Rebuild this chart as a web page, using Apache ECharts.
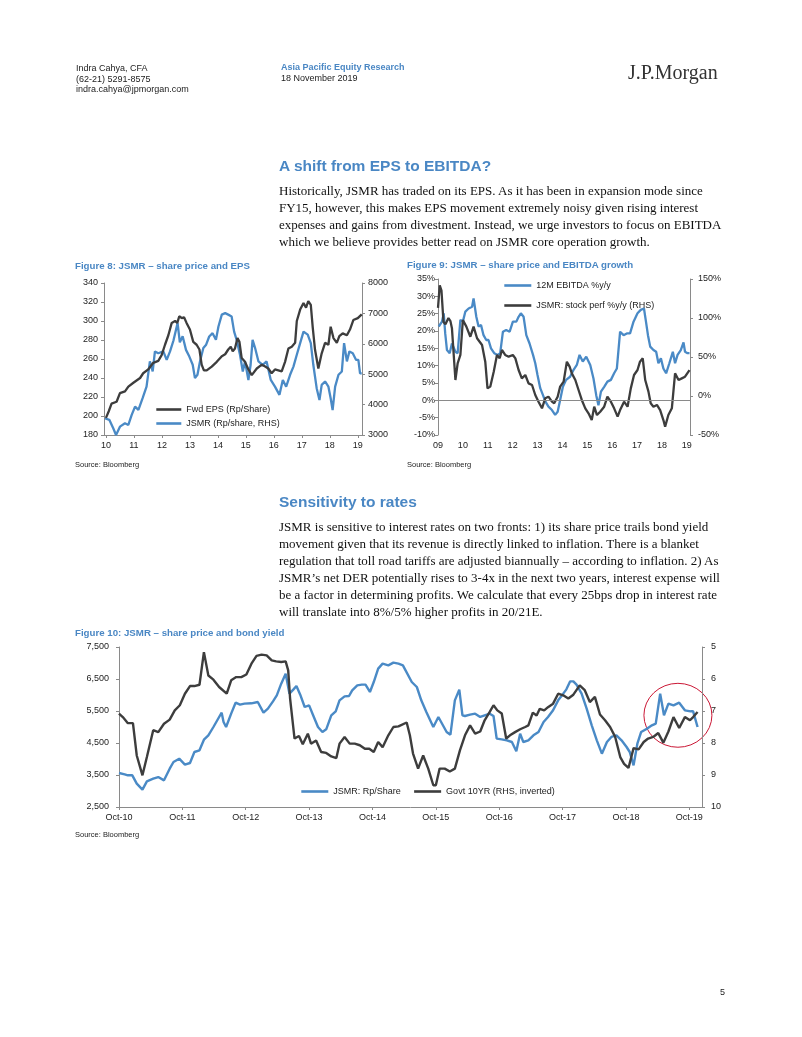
<!DOCTYPE html>
<html><head><meta charset="utf-8">
<script src="https://cdn.jsdelivr.net/npm/echarts@6/dist/echarts.min.js"></script>
<style>
html,body{margin:0;padding:0;background:#fff;}
#page{position:relative;width:802px;height:1037px;overflow:hidden;font-family:Arial,"Liberation Sans",sans-serif;color:#222;}
#chart{position:absolute;left:0;top:0;width:802px;height:1037px;}
.t{position:absolute;white-space:nowrap;z-index:2;}
.hdr{font-size:9px;line-height:10.5px;color:#222;}
.blue{color:#4a87c4;}
.jpm{font-family:"Liberation Serif","Times New Roman",serif;font-size:20px;line-height:22px;color:#333;}
.h{font-size:15.5px;font-weight:bold;line-height:18px;color:#4a87c4;}
.p{font-family:"Liberation Serif","Times New Roman",serif;font-size:13px;line-height:17px;color:#111;}
.fig{font-size:9.7px;font-weight:bold;line-height:12px;color:#4a87c4;}
.src{font-size:7.5px;line-height:10px;color:#222;}
</style></head>
<body>
<div id="page">
<div id="chart"></div>
<div class="t hdr" style="left:76px;top:63px;">Indra Cahya, CFA<br>(62-21) 5291-8575<br>indra.cahya@jpmorgan.com</div>
<div class="t hdr" style="left:281px;top:62px;"><b class="blue">Asia Pacific Equity Research</b><br>18 November 2019</div>
<div class="t jpm" style="left:628px;top:61px;">J.P.Morgan</div>
<div class="t h" style="left:279px;top:157px;">A shift from EPS to EBITDA?</div>
<div class="t p" style="left:279px;top:181.5px;">Historically, JSMR has traded on its EPS. As it has been in expansion mode since<br>FY15, however, this makes EPS movement extremely noisy given rising interest<br>expenses and gains from divestment. Instead, we urge investors to focus on EBITDA<br>which we believe provides better read on JSMR core operation growth.</div>
<div class="t fig" style="left:75px;top:260px;">Figure 8: JSMR – share price and EPS</div>
<div class="t fig" style="left:407px;top:259px;">Figure 9: JSMR – share price and EBITDA growth</div>
<div class="t src" style="left:75px;top:460px;">Source: Bloomberg</div>
<div class="t src" style="left:407px;top:460px;">Source: Bloomberg</div>
<div class="t h" style="left:279px;top:493px;">Sensitivity to rates</div>
<div class="t p" style="left:279px;top:517.5px;">JSMR is sensitive to interest rates on two fronts: 1) its share price trails bond yield<br>movement given that its revenue is directly linked to inflation. There is a blanket<br>regulation that toll road tariffs are adjusted biannually – according to inflation. 2) As<br>JSMR’s net DER potentially rises to 3-4x in the next two years, interest expense will<br>be a factor in determining profits. We calculate that every 25bps drop in interest rate<br>will translate into 8%/5% higher profits in 20/21E.</div>
<div class="t fig" style="left:75px;top:627px;">Figure 10: JSMR – share price and bond yield</div>
<div class="t src" style="left:75px;top:830px;">Source: Bloomberg</div>
<div class="t hdr" style="left:720px;top:987px;">5</div>
</div>
<script>
// ---------- Figure 8 data ----------
const fig8Ticks = [2010,2011,2012,2013,2014,2015,2016,2017,2018,2019];
const fig8EpsYears = [2010.0,2010.1,2010.2,2010.38,2010.5,2010.68,2010.8,2010.98,2011.22,2011.33,2011.51,2011.69,2011.87,2011.99,2012.11,2012.23,2012.35,2012.47,2012.55,2012.62,2012.71,2012.79,2012.88,2013.0,2013.12,2013.24,2013.34,2013.42,2013.5,2013.6,2013.78,2013.96,2014.14,2014.26,2014.37,2014.46,2014.53,2014.61,2014.7,2014.77,2014.85,2014.97,2015.09,2015.21,2015.39,2015.57,2015.69,2015.8,2015.92,2016.04,2016.16,2016.28,2016.4,2016.52,2016.64,2016.76,2016.82,2016.94,2017.06,2017.15,2017.23,2017.32,2017.39,2017.47,2017.59,2017.71,2017.83,2017.95,2018.03,2018.13,2018.25,2018.34,2018.46,2018.61,2018.72,2018.84,2019.0,2019.14];
const fig8EpsValues = [198,205,213,215,224,226,231,235,240,245,249,256,258,264,275,285,298,300,298,305,303,304,298,291,278,275,270,254,248,248,252,257,263,265,270,273,268,271,282,278,261,257,249,243,250,254,252,250,245,249,248,247,257,271,273,277,300,312,319,314,321,317,293,270,250,266,277,275,294,282,277,284,287,285,291,301,303,307];
const fig8PriceYears = [2009.96,2010.12,2010.26,2010.36,2010.5,2010.68,2010.8,2010.92,2011.04,2011.16,2011.31,2011.45,2011.57,2011.67,2011.75,2011.87,2012.05,2012.17,2012.29,2012.41,2012.56,2012.64,2012.74,2012.86,2012.98,2013.1,2013.18,2013.27,2013.36,2013.48,2013.58,2013.69,2013.81,2013.93,2014.02,2014.14,2014.26,2014.37,2014.49,2014.58,2014.67,2014.79,2014.89,2014.97,2015.09,2015.17,2015.24,2015.33,2015.45,2015.6,2015.74,2015.89,2016.04,2016.2,2016.32,2016.44,2016.58,2016.7,2016.82,2016.94,2017.06,2017.21,2017.32,2017.41,2017.53,2017.63,2017.71,2017.83,2017.95,2018.03,2018.1,2018.19,2018.31,2018.43,2018.51,2018.61,2018.7,2018.82,2018.94,2019.02,2019.08,2019.14];
const fig8PriceValues = [3550,3500,3220,3000,3275,3385,3330,3660,3935,3825,4210,4590,5420,5090,5750,5690,5750,5470,5750,6100,6680,6050,6250,5800,5580,5310,4870,4980,5420,5860,5970,6240,6350,6130,6570,6960,7010,6960,6900,6400,6130,5640,5090,5420,4810,5310,6130,5860,5420,5310,5420,4810,4590,4320,4810,4590,4980,5250,5640,6020,6400,6300,6020,5310,4540,4150,4650,4760,4590,4210,3820,4590,4980,5090,6020,5420,5750,5690,5470,5470,5030,5030];

// ---------- Figure 9 data ----------
const fig9Ticks = [2009,2010,2011,2012,2013,2014,2015,2016,2017,2018,2019];
const fig9EbitdaYears = [2009.03,2009.16,2009.23,2009.29,2009.36,2009.47,2009.56,2009.70,2009.79,2009.90,2010.00,2010.10,2010.23,2010.37,2010.43,2010.54,2010.63,2010.73,2010.83,2010.94,2011.03,2011.13,2011.26,2011.40,2011.50,2011.61,2011.74,2011.88,2012.01,2012.15,2012.24,2012.33,2012.44,2012.55,2012.68,2012.82,2012.91,2013.00,2013.11,2013.22,2013.32,2013.44,2013.58,2013.71,2013.81,2013.91,2014.02,2014.15,2014.31,2014.45,2014.58,2014.69,2014.82,2014.96,2015.12,2015.25,2015.36,2015.45,2015.55,2015.68,2015.81,2015.95,2016.08,2016.19,2016.32,2016.46,2016.59,2016.72,2016.86,2017.02,2017.15,2017.28,2017.36,2017.44,2017.53,2017.66,2017.77,2017.86,2017.96,2018.06,2018.17,2018.30,2018.44,2018.53,2018.63,2018.76,2018.87,2018.93,2019.03,2019.11];
const fig9EbitdaValues = [21.3,22.7,25.1,19.3,14.5,13.6,16.4,14.0,13.6,23.2,22.7,25.6,26.5,27.0,29.4,24.1,21.3,21.7,18.8,17.4,17.4,15.0,13.6,13.1,13.6,19.8,20.3,19.8,22.7,22.7,24.1,25.1,24.1,18.8,16.4,13.1,10.7,7.3,3.5,1.5,-0.4,-1.8,-2.8,-4.2,-3.3,0.1,3.9,5.9,6.8,8.8,10.2,13.1,11.2,12.6,10.2,6.3,1.5,-1.4,2.5,3.9,5.4,5.9,7.8,9.2,19.8,18.8,19.3,19.3,22.7,25.1,26.1,26.5,22.7,18.8,15.5,14.5,14.0,10.7,12.1,9.2,7.8,10.7,14.0,10.7,13.1,14.5,16.7,14.0,13.6,13.6];
const fig9StockYears = [2009.0,2009.07,2009.14,2009.22,2009.3,2009.42,2009.5,2009.56,2009.70,2009.79,2009.90,2010.00,2010.14,2010.30,2010.43,2010.57,2010.77,2010.90,2010.99,2011.10,2011.24,2011.37,2011.48,2011.57,2011.70,2011.84,2012.01,2012.11,2012.24,2012.37,2012.51,2012.64,2012.78,2012.91,2013.04,2013.18,2013.31,2013.44,2013.58,2013.67,2013.81,2013.91,2014.05,2014.18,2014.29,2014.38,2014.52,2014.65,2014.78,2014.92,2015.05,2015.18,2015.28,2015.39,2015.52,2015.68,2015.81,2015.95,2016.08,2016.22,2016.32,2016.48,2016.62,2016.75,2016.88,2017.02,2017.12,2017.23,2017.33,2017.46,2017.55,2017.66,2017.80,2017.93,2018.06,2018.13,2018.26,2018.40,2018.53,2018.67,2018.80,2018.93,2019.11];
const fig9StockValues = [113,142,135,95,92,100,96,87,20.5,41.9,52.6,97.4,88.9,76,88.9,74,65.4,44,9.8,12,31.2,52.6,48.3,59,52.6,50.4,52.6,48.3,33.3,22.6,26.9,16.2,14.1,1.3,-7.3,-15.8,-3,-0.9,-7.3,-9.4,-0.9,12,18.4,44,37.6,29,20.5,7.7,-5.1,-15.8,-22.2,-30.8,-13.7,-24.4,-20.1,-13.7,-0.9,-7.3,-15.8,-26.5,-18,-7.3,-13.7,9.8,26.9,33.3,44,48.3,20.5,5.6,-9.4,-13.7,-11.5,-18,-30.8,-39.3,-24.4,-15.8,29,20.5,22.6,24.7,33.3];

// ---------- Figure 10 data ----------
const fig10Ticks = [2010.75,2011.75,2012.75,2013.75,2014.75,2015.75,2016.75,2017.75,2018.75,2019.75];
const fig10PriceTicks = [2500,3500,4500,5500,6500,7500];
const fig10PriceYears = [2010.75,2010.84,2010.89,2010.96,2011.03,2011.12,2011.19,2011.29,2011.37,2011.46,2011.55,2011.61,2011.70,2011.79,2011.87,2011.94,2012.02,2012.09,2012.16,2012.24,2012.33,2012.37,2012.40,2012.44,2012.52,2012.59,2012.66,2012.73,2012.84,2012.94,2013.03,2013.10,2013.18,2013.24,2013.31,2013.38,2013.44,2013.50,2013.55,2013.61,2013.68,2013.75,2013.81,2013.89,2013.96,2014.02,2014.10,2014.17,2014.23,2014.31,2014.38,2014.43,2014.51,2014.58,2014.64,2014.71,2014.77,2014.84,2014.91,2015.00,2015.08,2015.16,2015.23,2015.37,2015.45,2015.52,2015.60,2015.71,2015.79,2015.92,2015.98,2016.05,2016.12,2016.17,2016.21,2016.29,2016.37,2016.45,2016.52,2016.60,2016.66,2016.71,2016.79,2016.87,2016.95,2017.02,2017.08,2017.13,2017.21,2017.29,2017.37,2017.45,2017.52,2017.60,2017.68,2017.76,2017.81,2017.87,2017.92,2017.97,2018.05,2018.13,2018.21,2018.29,2018.37,2018.45,2018.52,2018.60,2018.68,2018.76,2018.81,2018.87,2018.93,2018.99,2019.08,2019.16,2019.22,2019.29,2019.35,2019.42,2019.50,2019.59,2019.68,2019.77,2019.81,2019.88];
const fig10PriceValues = [3563,3521,3490,3490,3230,3042,3302,3385,3437,3333,3698,3906,4010,3823,3875,4219,4271,4604,4740,5000,5313,5448,5156,5000,5417,5760,5698,5729,5740,5781,5448,5573,5802,5990,6354,6667,6042,6167,6281,6010,5625,5677,5385,5000,4844,4927,5365,5490,5833,5958,5969,6146,6302,6323,6323,6094,6406,6823,6979,6927,7010,6979,6927,6406,6250,5833,5469,5000,5313,4844,4760,5833,6167,5365,5344,5385,5417,5313,5365,5417,5344,4635,4615,4583,4531,4240,4792,4531,4583,4740,4844,5156,5313,5521,5833,6042,6177,6427,6427,6323,6042,5573,5052,4583,4167,4531,4688,4740,4583,4375,4219,3802,4479,4844,4948,5052,5104,6042,5365,5729,5677,5760,5521,5490,5490,5000];
const fig10YieldYears = [2010.75,2010.81,2010.89,2010.97,2011.03,2011.12,2011.19,2011.29,2011.37,2011.46,2011.55,2011.63,2011.71,2011.79,2011.87,2011.94,2012.02,2012.09,2012.16,2012.24,2012.33,2012.45,2012.52,2012.60,2012.68,2012.76,2012.84,2012.92,2013.00,2013.08,2013.16,2013.23,2013.31,2013.38,2013.42,2013.45,2013.52,2013.59,2013.65,2013.73,2013.78,2013.86,2013.94,2014.02,2014.10,2014.18,2014.23,2014.31,2014.39,2014.47,2014.55,2014.63,2014.70,2014.77,2014.84,2014.91,2015.00,2015.08,2015.16,2015.29,2015.34,2015.39,2015.47,2015.55,2015.63,2015.71,2015.75,2015.81,2015.89,2015.97,2016.05,2016.13,2016.21,2016.29,2016.37,2016.45,2016.52,2016.60,2016.66,2016.72,2016.79,2016.86,2016.92,2017.00,2017.08,2017.16,2017.21,2017.28,2017.34,2017.39,2017.46,2017.52,2017.60,2017.68,2017.76,2017.84,2017.92,2018.02,2018.10,2018.18,2018.26,2018.34,2018.42,2018.50,2018.58,2018.66,2018.72,2018.79,2018.87,2018.95,2019.03,2019.10,2019.18,2019.26,2019.34,2019.42,2019.50,2019.59,2019.68,2019.76,2019.81,2019.88];
const fig10YieldValues = [7.08,7.19,7.38,7.38,8.39,9.01,8.44,7.60,7.66,7.40,7.27,6.98,6.82,6.46,6.22,6.22,6.18,5.16,5.89,6.02,6.25,6.46,6.04,5.94,5.94,5.86,5.52,5.28,5.24,5.26,5.42,5.45,5.47,5.45,5.73,6.61,7.86,7.78,8.04,7.71,8.02,7.92,8.28,8.31,8.42,8.47,8.02,7.81,8.02,8.02,8.07,8.18,8.18,8.28,7.97,8.13,7.76,7.50,7.48,7.36,7.76,8.33,8.80,8.39,8.80,9.32,9.32,8.80,8.80,8.89,8.80,8.23,7.76,7.45,7.71,7.64,7.29,7.03,6.82,6.98,7.08,7.86,7.76,7.66,7.57,7.50,7.45,7.05,7.14,6.93,6.98,6.88,6.77,6.46,6.51,6.61,6.49,6.20,6.35,6.72,6.56,7.11,7.29,7.50,7.81,8.44,8.65,8.78,8.16,8.20,7.97,7.86,7.81,7.69,7.99,7.64,7.19,7.53,7.19,7.29,7.19,7.03];
// annotation (circled area in Figure 10), in data units
const fig10Circle = {year: 2019.57, price: 5366};

const BLUE = '#4a8ac6', DARK = '#3d3d3d', AX = '#8a8a8a', LBL = '#222';
const zip = (xs, ys) => xs.map((x, i) => [x, ys[i]]);
const two = v => String(Math.round(v) % 100).padStart(2, '0');

function xAx(grid, min, max, ticks, fmt, showLine) {
  return {
    type: 'value', gridIndex: grid, min: min, max: max,
    axisLine: {show: showLine, lineStyle: {color: AX, width: 1}},
    axisTick: {show: showLine, length: 3, customValues: ticks, lineStyle: {color: AX}},
    axisLabel: {customValues: ticks, formatter: fmt, color: LBL, fontSize: 9, fontFamily: 'Arial', margin: 6},
    splitLine: {show: false}
  };
}
function yAx(grid, pos, min, max, interval, fmt, margin, extra) {
  return Object.assign({
    type: 'value', gridIndex: grid, position: pos, min: min, max: max, interval: interval,
    axisLine: {show: true, lineStyle: {color: AX, width: 1}},
    axisTick: {show: true, length: 3, lineStyle: {color: AX}},
    axisLabel: {formatter: fmt, color: LBL, fontSize: 9, fontFamily: 'Arial', margin: margin},
    splitLine: {show: false}
  }, extra || {});
}
function line(name, x, y, data, color, w) {
  return {name: name, type: 'line', xAxisIndex: x, yAxisIndex: y, data: data, symbol: 'none',
    lineStyle: {color: color, width: w}, itemStyle: {color: color}, animation: false, silent: true};
}
const legendBase = {textStyle: {fontSize: 9, color: LBL, fontFamily: 'Arial'}, itemHeight: 10,
  itemStyle: {opacity: 0}, lineStyle: {width: 2.6}, selectedMode: false, padding: 0};

const chart = echarts.init(document.getElementById('chart'), null, {renderer: 'canvas'});
const option = {
  animation: false,
  grid: [
    {left: 104, top: 283, width: 258, height: 152},
    {left: 438, top: 279, width: 252, height: 156},
    {left: 119, top: 647, width: 583, height: 160}
  ],
  xAxis: [
    xAx(0, 2009.93, 2019.15, fig8Ticks, v => two(v), true),
    xAx(1, 2009.0, 2019.13, fig9Ticks, v => two(v), false),
    xAx(2, 2010.75, 2019.95, fig10Ticks, v => 'Oct-' + two(Math.floor(v)), true)
  ],
  yAxis: [
    yAx(0, 'left', 180, 340, 20, v => String(v), 6),
    yAx(0, 'right', 3000, 8000, 1000, v => String(v), 6),
    yAx(1, 'left', -10, 35, 5, v => v + '%', 3),
    yAx(1, 'right', -50, 150, 50, v => v + '%', 8),
    yAx(2, 'left', 2500, 7500, null, v => v.toLocaleString('en-US'), 10,
        {interval: undefined, axisTick: {show: true, length: 3, customValues: fig10PriceTicks, lineStyle: {color: AX}},
         axisLabel: {customValues: fig10PriceTicks, formatter: v => v.toLocaleString('en-US'), color: LBL, fontSize: 9, fontFamily: 'Arial', margin: 10}}),
    yAx(2, 'right', 5, 10, 1, v => String(v), 9, {inverse: true})
  ],
  legend: [
    Object.assign({}, legendBase, {data: ['Fwd EPS (Rp/Share)', 'JSMR (Rp/share, RHS)'], orient: 'vertical', left: 155, top: 405, itemWidth: 25, itemGap: 5}),
    Object.assign({}, legendBase, {data: ['12M EBITDA %y/y', 'JSMR: stock perf %y/y (RHS)'], orient: 'vertical', left: 503, top: 281, itemWidth: 27, itemGap: 11}),
    Object.assign({}, legendBase, {data: ['JSMR: Rp/Share', 'Govt 10YR (RHS, inverted)'], orient: 'horizontal', left: 300, top: 787, itemWidth: 27, itemGap: 12})
  ],
  series: [
    line('JSMR (Rp/share, RHS)', 0, 1, zip(fig8PriceYears, fig8PriceValues), BLUE, 2.3),
    line('Fwd EPS (Rp/Share)', 0, 0, zip(fig8EpsYears, fig8EpsValues), DARK, 2.3),
    Object.assign(line('12M EBITDA %y/y', 1, 2, zip(fig9EbitdaYears, fig9EbitdaValues), BLUE, 2.3), {
      markLine: {silent: true, symbol: 'none', label: {show: false}, animation: false,
        lineStyle: {color: AX, width: 1, type: 'solid'}, data: [{yAxis: 0}]}
    }),
    line('JSMR: stock perf %y/y (RHS)', 1, 3, zip(fig9StockYears, fig9StockValues), DARK, 2.3),
    line('JSMR: Rp/Share', 2, 4, zip(fig10PriceYears, fig10PriceValues), BLUE, 2.4),
    line('Govt 10YR (RHS, inverted)', 2, 5, zip(fig10YieldYears, fig10YieldValues), DARK, 2.4)
  ]
};
chart.setOption(option);
const c = chart.convertToPixel({seriesIndex: 4}, [fig10Circle.year, fig10Circle.price]);
chart.setOption({graphic: [{type: 'circle', x: c[0], y: c[1], scaleY: 0.94, silent: true,
  shape: {cx: 0, cy: 0, r: 34}, style: {fill: 'none', stroke: '#c8102e', lineWidth: 1}}]});
</script>
</body></html>
